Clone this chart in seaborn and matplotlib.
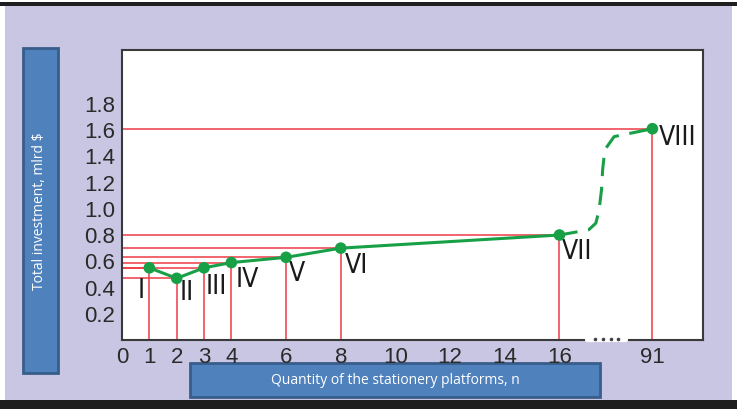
import matplotlib
matplotlib.use("Agg")
import matplotlib.pyplot as plt
from matplotlib.patches import Rectangle, FancyBboxPatch
from matplotlib import font_manager
import pandas as pd
import seaborn as sns

# values
platforms = [1, 2, 3, 4, 6, 8, 16, 91]
investment = [0.55, 0.47, 0.55, 0.59, 0.63, 0.70, 0.80, 1.61]
stage_names = ["I", "II", "III", "IV", "V", "VI", "VII", "VIII"]
x_ticks = [0, 1, 2, 3, 4, 6, 8, 10, 12, 14, 16, 91]
y_ticks = [0.2, 0.4, 0.6, 0.8, 1.0, 1.2, 1.4, 1.6, 1.8]

# dashed jump between stage VII and VIII (n between 16 and the axis break)
jump_n = [16, 17.07, 17.33, 17.45, 17.54, 17.58, 17.66, 18.0, 91]
jump_inv = [0.80, 0.84, 0.89, 0.99, 1.15, 1.30, 1.45, 1.55, 1.61]

# label offsets (pixels) of the roman numerals from their points
label_dx = [-8, 10, 12, 16, 11, 16, 18, 25]
label_dy = [-23, -15, -19, -17, -17, -18, -17, -9]

BREAK_POS = 19.4   # where n = 91 sits on the broken axis


def to_axis(n):
    return BREAK_POS if n == 91 else n


sns.set_style("white")
plt.rcParams['font.family'] = ['Liberation Sans', 'DejaVu Sans']

# a narrow face for the roman numerals, if there is one
numeral_font = {'family': 'Liberation Sans', 'size': 17}
for f in font_manager.fontManager.ttflist:
    if ('Narrow' in f.name or 'Condensed' in f.name or f.stretch == 'condensed') \
            and f.weight in (400, 'normal', 'regular') and f.style == 'normal':
        numeral_font = {'fname': f.fname, 'size': 19}
        break
if 'fname' in numeral_font:
    numeral_prop = font_manager.FontProperties(fname=numeral_font['fname'], size=numeral_font['size'])
else:
    numeral_prop = font_manager.FontProperties(family=numeral_font['family'], size=numeral_font['size'])

W, H = 737, 409
fig = plt.figure(figsize=(W / 100, H / 100), dpi=100)
fig.patch.set_facecolor('white')

# panel background, dark bars top and bottom
fig.patches.append(Rectangle((5 / W, 9 / H), 727 / W, 397 / H, transform=fig.transFigure,
                             facecolor='#c8c6e2', edgecolor='none', zorder=0))
fig.patches.append(Rectangle((0, 403 / H), 1, 4 / H, transform=fig.transFigure,
                             facecolor='#1e1e1e', edgecolor='none', zorder=0))
fig.patches.append(Rectangle((0, 0), 1, 9 / H, transform=fig.transFigure,
                             facecolor='#1e1e1e', edgecolor='none', zorder=0))

ax = fig.add_axes([122 / W, 69 / H, 581 / W, 290 / H])
ax.set_zorder(3)
ax.set_facecolor('white')

df = pd.DataFrame({'n': platforms, 'inv': investment, 'stage': stage_names})
df['pos'] = df['n'].map(to_axis)

red = '#ee3b47'
green = '#18a047'

# red guide lines
for p, v in zip(df['pos'], df['inv']):
    ax.plot([0, p], [v, v], color=red, lw=1.1, zorder=2)
    ax.plot([p, p], [0, v], color=red, lw=1.1, zorder=2)

solid = df[df['n'] <= 16]
sns.lineplot(data=solid, x='pos', y='inv', color=green, lw=2.2, ax=ax, zorder=3, sort=False)

jump = pd.DataFrame({'pos': [to_axis(n) for n in jump_n], 'inv': jump_inv})
sns.lineplot(data=jump, x='pos', y='inv', color=green, lw=2.2, ax=ax, zorder=3,
             sort=False, dashes=False, linestyle=(0, (6, 3.5)))

sns.scatterplot(data=df, x='pos', y='inv', color=green, s=70, edgecolor='none', ax=ax, zorder=4)

for (p, v, name), dx, dy in zip(df[['pos', 'inv', 'stage']].values, label_dx, label_dy):
    ax.annotate(name, (p, v), xytext=(dx, dy), textcoords='offset pixels',
                ha='center', va='center', color='#1a1a1a', fontproperties=numeral_prop)

ax.set_xlim(0, 21.25)
ax.set_ylim(0, 2.21)
ax.set_xticks([to_axis(n) for n in x_ticks])
ax.set_xticklabels([str(n) for n in x_ticks])
ax.set_yticks(y_ticks)
ax.set_yticklabels([f"{t:.1f}" for t in y_ticks])
ax.tick_params(length=0, labelsize=16, colors='#2a2a2a', pad=5)
ax.set_xlabel('')
ax.set_ylabel('')
for s in ax.spines.values():
    s.set_color('#3a3a3a')
    s.set_linewidth(1.5)

# axis break on the bottom spine
ax.plot([17.0, 18.45], [0, 0], color='white', lw=3, clip_on=False, zorder=6)
ax.plot([17.3, 17.6, 17.9, 18.15], [0.01] * 4, ls='none', marker='o', ms=1.6,
        color='#444444', clip_on=False, zorder=7)

# label boxes
box_face = '#4f81bd'
box_edge = '#385d8a'
fig.patches.append(FancyBboxPatch((23 / W, 36 / H), 35 / W, 325 / H, transform=fig.transFigure,
                                  boxstyle='square,pad=0', facecolor=box_face,
                                  edgecolor=box_edge, lw=2, zorder=1))
fig.patches.append(FancyBboxPatch((190 / W, 12 / H), 410 / W, 34 / H, transform=fig.transFigure,
                                  boxstyle='square,pad=0', facecolor=box_face,
                                  edgecolor=box_edge, lw=2, zorder=1))
fig.text(40 / W, (H - 211) / H, 'Total investment, mlrd $', rotation=90, ha='center',
         va='center', color='white', fontsize=10, family='Open Sans')
fig.text(395 / W, (H - 381) / H, 'Quantity of the stationery platforms, n', ha='center',
         va='center', color='white', fontsize=10, family='Open Sans')

fig.savefig('out.png', dpi=100, facecolor=fig.get_facecolor())
